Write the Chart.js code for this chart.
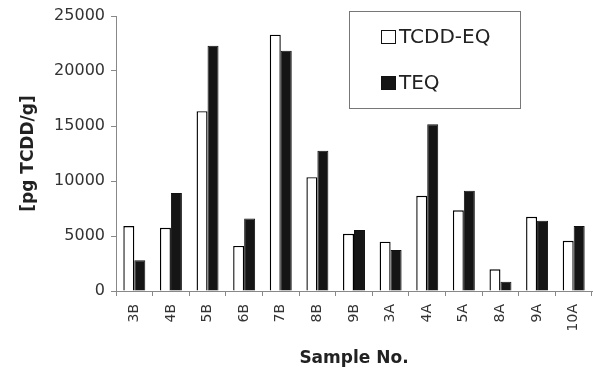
<!DOCTYPE html>
<html lang="en">
<head>
  <meta charset="UTF-8">
  <title>TCDD-EQ vs TEQ by sample</title>
  <script src="https://cdn.jsdelivr.net/npm/chart.js"></script>
  <style>
    html, body {
      margin: 0;
      padding: 0;
      background: #fff;
    }
    .wrap {
      width: 593px;
      height: 377px;
    }
  </style>
</head>
<body>
  <div class="wrap">
    <canvas id="chart" width="593" height="377"></canvas>
  </div>

  <script>
    const samples = ['3B', '4B', '5B', '6B', '7B', '8B', '9B', '3A', '4A', '5A', '8A', '9A', '10A'];
    const tcddEq = [5900, 5750, 16350, 4100, 23300, 10350, 5200, 4480, 8650, 7330, 1970, 6750, 4570];
    const teq = [2800, 8900, 22300, 6600, 21850, 12750, 5550, 3730, 15150, 9120, 850, 6390, 5900];
    const yTicks = [0, 5000, 10000, 15000, 20000, 25000];

    const FONT = "'DejaVu Sans', sans-serif";

    // legend drawn inside the plot, framed like the original
    const boxLegend = {
      id: 'boxLegend',
      afterDraw(chart) {
        const ctx = chart.ctx;
        ctx.save();
        ctx.strokeStyle = '#777';
        ctx.lineWidth = 1;
        ctx.strokeRect(349.5, 11.5, 171, 97);
        const rows = [37, 83];
        chart.data.datasets.forEach((ds, i) => {
          const y = rows[i];
          ctx.fillStyle = ds.backgroundColor;
          ctx.fillRect(381, y - 7, 15, 14);
          ctx.strokeStyle = '#111';
          ctx.strokeRect(381.5, y - 6.5, 14, 13);
          ctx.fillStyle = '#222';
          ctx.font = '20px ' + FONT;
          ctx.textBaseline = 'middle';
          ctx.textAlign = 'left';
          ctx.fillText(ds.label, 399, y + 1);
        });
        ctx.restore();
      }
    };

    new Chart(document.getElementById('chart'), {
      type: 'bar',
      data: {
        labels: samples,
        datasets: [
          {
            label: 'TCDD-EQ',
            data: tcddEq,
            backgroundColor: '#ffffff',
            borderColor: '#000',
            borderWidth: 1.4,
            categoryPercentage: 0.6,
            barPercentage: 1.0
          },
          {
            label: 'TEQ',
            data: teq,
            backgroundColor: '#151515',
            borderColor: '#111',
            borderWidth: 1,
            categoryPercentage: 0.6,
            barPercentage: 1.0
          }
        ]
      },
      options: {
        responsive: false,
        animation: false,
        layout: { padding: { top: 16, right: 0, left: 0, bottom: 0 } },
        plugins: {
          legend: { display: false },
          tooltip: { enabled: false }
        },
        scales: {
          x: {
            afterFit(scale) { scale.height = 86; scale.paddingRight = 1; },
            border: { color: '#888', width: 1 },
            grid: { display: true, drawOnChartArea: false, tickLength: 5, color: '#888', offset: true },
            ticks: {
              minRotation: 90,
              maxRotation: 90,
              padding: 8,
              color: '#333',
              font: { family: FONT, size: 14 }
            },
            title: {
              display: true,
              text: 'Sample No.',
              color: '#222',
              padding: { top: 16, bottom: 8 },
              font: { family: FONT, size: 17, weight: 'bold' }
            }
          },
          y: {
            min: 0,
            max: 25000,
            afterFit(scale) { scale.width = 116; },
            afterBuildTicks(scale) { scale.ticks = yTicks.map(v => ({ value: v })); },
            border: { color: '#888', width: 1 },
            grid: { display: true, drawOnChartArea: false, tickLength: 5, color: '#888' },
            ticks: {
              padding: 6,
              color: '#333',
              font: { family: FONT, size: 16 },
              callback: v => String(v)
            },
            title: {
              display: true,
              text: '[pg TCDD/g]',
              color: '#222',
              padding: { top: 18, bottom: 0 },
              font: { family: FONT, size: 17, weight: 'bold' }
            }
          }
        }
      },
      plugins: [boxLegend]
    });
  </script>
</body>
</html>
